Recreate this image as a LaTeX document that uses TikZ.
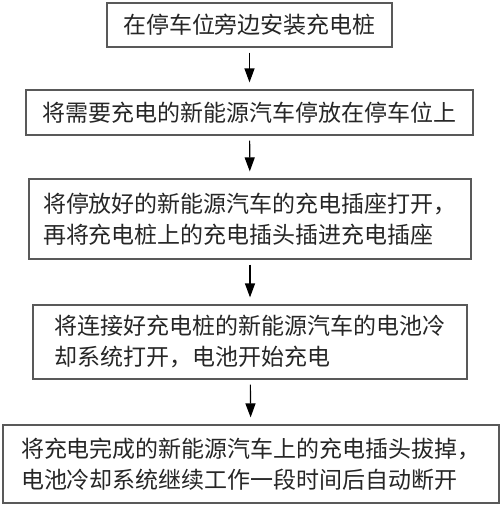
\documentclass[tikz,border=0pt]{standalone}
\usepackage{fontspec}
\usepackage{tikz}
\usetikzlibrary{arrows.meta}
\newfontfamily\cjk{Noto Sans CJK SC}

\begin{document}
\begin{tikzpicture}[x=1pt,y=-1pt,every node/.style={draw=black!65,line width=1.2pt,font=\cjk\fontsize{23}{31}\selectfont,text=black!85,inner sep=0pt,align=left},flow/.style={-{Triangle[width=10pt,length=14pt]},line width=1.2pt,shorten <=5pt,shorten >=7pt}]
	
	\useasboundingbox (0,0) rectangle (500,507);
	
	\node[minimum width=285pt,minimum height=44pt] (install) at (249.5,25) {在停车位旁边安装充电桩};
	\node[minimum width=447pt,minimum height=45pt] (park) at (249.5,112.5) {将需要充电的新能源汽车停放在停车位上};
	\node[minimum width=442pt,minimum height=80pt] (plugin) at (250,219) {将停放好的新能源汽车的充电插座打开，\\再将充电桩上的充电插头插进充电插座};
	\node[minimum width=434pt,minimum height=74pt] (cooling) at (250,342) {将连接好充电桩的新能源汽车的电池冷\\却系统打开，电池开始充电};
	\node[minimum width=496pt,minimum height=78pt] (unplug) at (251,464) {将充电完成的新能源汽车上的充电插头拔掉，\\电池冷却系统继续工作一段时间后自动断开};
	
	\draw[flow] (install) -- (park);
	\draw[flow] (park) -- (plugin);
	\draw[flow] (plugin) -- (cooling);
	\draw[flow] (cooling) -- (unplug);
	
\end{tikzpicture}
\end{document}
